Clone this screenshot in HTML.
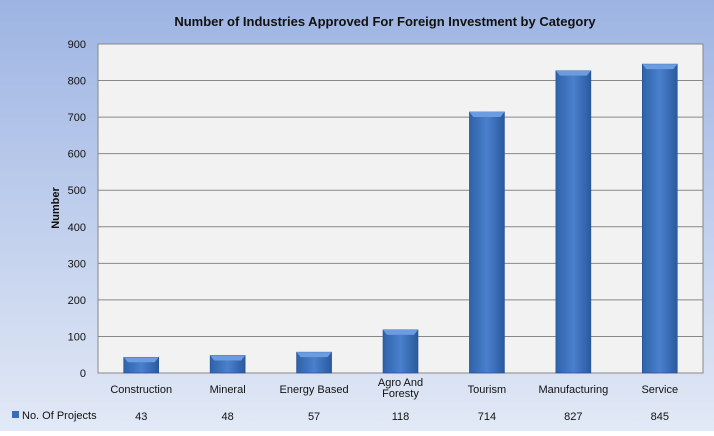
<!DOCTYPE html>
<html><head><meta charset="utf-8"><style>
body{margin:0;width:714px;height:431px;overflow:hidden;font-family:"Liberation Sans",sans-serif;}
</style></head><body>
<svg width="714" height="431" id="c" xmlns="http://www.w3.org/2000/svg">
<defs>
<linearGradient id="bg" x1="0" y1="0" x2="0" y2="1"><stop offset="0" stop-color="#9db4e3"/><stop offset="1" stop-color="#e2e9f6"/></linearGradient>
<linearGradient id="bar" x1="0" y1="0" x2="1" y2="0"><stop offset="0" stop-color="#2f62a8"/><stop offset="0.5" stop-color="#4a80cc"/><stop offset="1" stop-color="#2a5a9e"/></linearGradient>
</defs>
<rect width="714" height="431" fill="url(#bg)"/>
<text x="385" y="26" text-anchor="middle" font-size="13" font-weight="bold" fill="#111">Number of Industries Approved For Foreign Investment by Category</text>
<rect x="98" y="44" width="605" height="329" fill="#f2f2f2" stroke="#888"/>
<text transform="translate(59,208) rotate(-90)" text-anchor="middle" font-size="11" font-weight="bold" fill="#111">Number</text>
<g id="g"></g>
</svg>
<script>
const categories=["Construction","Mineral","Energy Based","Agro And|Foresty","Tourism","Manufacturing","Service"];
const values=[43,48,57,118,714,827,845];
const yTicks=[0,100,200,300,400,500,600,700,800,900];
const NS="http://www.w3.org/2000/svg";
const g=document.getElementById('g');
const L=98,R=703,T=44,B=373,maxV=900;
const y=v=>B-(v/maxV)*(B-T);
const step=(R-L)/categories.length;
const x=i=>L+step*(i+0.5);
function mk(t,a){const e=document.createElementNS(NS,t);for(const k in a)e.setAttribute(k,a[k]);g.appendChild(e);return e;}
yTicks.forEach(v=>{
 if(v>0&&v<maxV){const l=mk('line',{x1:L,x2:R,y1:y(v),y2:y(v),stroke:'#888'});
 
 }
 const t=mk('text',{x:86,y:y(v)+4,'text-anchor':'end','font-size':11,fill:'#111'});t.textContent=v;
 
 
});
values.forEach((v,i)=>{
 const w=35,bx=x(i)-w/2,by=y(v);
 const r=mk('rect',{x:bx,y:by,width:w,height:B-by,fill:'url(#bar)',stroke:'#244f8c','stroke-width':0.6});
 
 
 const c=mk('polygon',{points:`${bx},${by} ${bx+w},${by} ${bx+w-4},${by+5} ${bx+4},${by+5}`,fill:'#6b9be0'});
 
 
 const parts=categories[i].split('|');
 parts.forEach((p,j)=>{const t=mk('text',{x:x(i),y:(parts.length>1?386:393)+j*11,'text-anchor':'middle','font-size':11,fill:'#111'});t.textContent=p;
 
 });
 const d=mk('text',{x:x(i),y:420,'text-anchor':'middle','font-size':11,fill:'#111'});d.textContent=v;
 
 
});
const k=mk('rect',{x:12,y:411,width:7,height:7,fill:'#3a6db5'});


const lt=mk('text',{x:22,y:419,'font-size':11,fill:'#111'});lt.textContent='No. Of Projects';


</script>
</body></html>
